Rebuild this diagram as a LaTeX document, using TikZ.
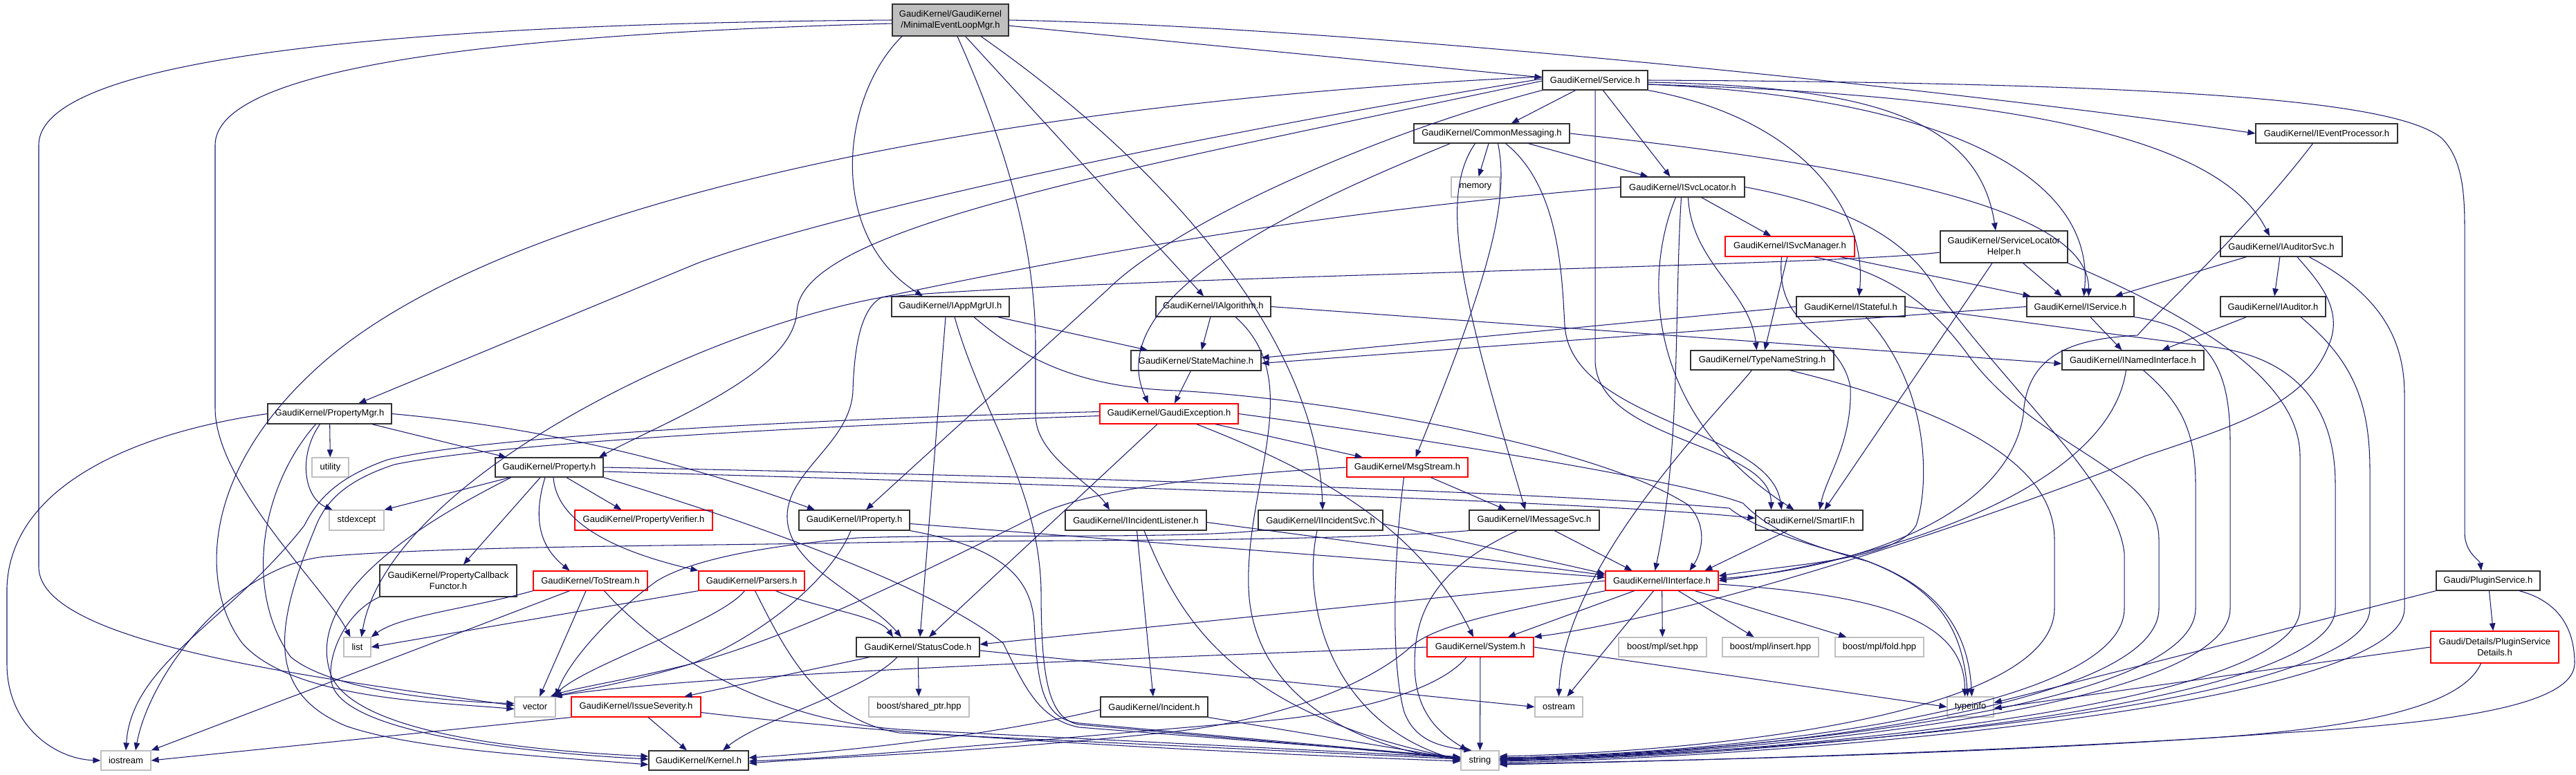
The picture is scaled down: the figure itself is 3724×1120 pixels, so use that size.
\documentclass[tikz,border=0pt]{standalone}
\usepackage{fontspec}
\newfontfamily\gkfam{Liberation Sans}
\usetikzlibrary{arrows.meta}
\definecolor{edgecol}{RGB}{25,25,112}
\definecolor{boxgrey}{RGB}{191,191,191}
\definecolor{melmgrey}{RGB}{191,191,191}
\definecolor{boxline}{RGB}{50,50,50}
\newcommand\gkfont{\gkfam\fontsize{13}{16}\selectfont}
\tikzset{
  box/.style={draw=boxline, line width=1.2pt, fill=white, inner sep=0pt, align=center, font=\gkfont, text=black},
  redbox/.style={box, draw=red},
  greybox/.style={box, draw=boxgrey},
  wh/.style 2 args={minimum width=#1pt, minimum height=#2pt},
  edg/.style={draw=edgecol, line width=1.05pt, -{Triangle[length=11pt,width=8.5pt]}},
}
\begin{document}
\begin{tikzpicture}[x=1pt,y=-1pt]
\fill[white] (0,0) rectangle (3724,1120);
\useasboundingbox (0,0) rectangle (3724,1120);

% ---------- nodes ----------
\node[box, fill=melmgrey, wh={168}{46}] (melm) at (1374,29) {GaudiKernel/GaudiKernel\\/MinimalEventLoopMgr.h};
\node[box, wh={152}{28}] (service) at (2306,116) {GaudiKernel/Service.h};
\node[box, wh={225}{28}] (cm) at (2156.5,193) {GaudiKernel/CommonMessaging.h};
\node[box, wh={205}{28}] (iep) at (3363.5,193) {GaudiKernel/IEventProcessor.h};
\node[greybox, wh={70}{29}] (memory) at (2133,270.5) {memory};
\node[box, wh={179}{29}] (isvcloc) at (2432.5,270.5) {GaudiKernel/ISvcLocator.h};
\node[redbox, wh={187}{29}] (isvcmgr) at (2587.5,356.5) {GaudiKernel/ISvcManager.h};
\node[box, wh={184}{46}] (slh) at (2897,357) {GaudiKernel/ServiceLocator\\Helper.h};
\node[box, wh={176}{29}] (iaudsvc) at (3298,356.5) {GaudiKernel/IAuditorSvc.h};
\node[box, wh={170}{29}] (iappmgrui) at (1374,443.5) {GaudiKernel/IAppMgrUI.h};
\node[box, wh={166}{29}] (ialg) at (1754,443.5) {GaudiKernel/IAlgorithm.h};
\node[box, wh={157}{29}] (istateful) at (2675.5,443.5) {GaudiKernel/IStateful.h};
\node[box, wh={155}{29}] (iservice) at (3007.5,443.5) {GaudiKernel/IService.h};
\node[box, wh={152}{29}] (iauditor) at (3286,443.5) {GaudiKernel/IAuditor.h};
\node[box, wh={188}{29}] (statemachine) at (1729,521.5) {GaudiKernel/StateMachine.h};
\node[box, wh={207}{28}] (tns) at (2547.5,521) {GaudiKernel/TypeNameString.h};
\node[box, wh={205}{28}] (inamed) at (3083.5,521) {GaudiKernel/INamedInterface.h};
\node[box, wh={179}{29}] (propmgr) at (476.5,598.5) {GaudiKernel/PropertyMgr.h};
\node[redbox, wh={200}{29}] (gexc) at (1690,598.5) {GaudiKernel/GaudiException.h};
\node[greybox, wh={53}{28}] (utility) at (477.5,676) {utility};
\node[box, wh={156}{28}] (property) at (794,676) {GaudiKernel/Property.h};
\node[redbox, wh={175}{28}] (msgstream) at (2034.5,676) {GaudiKernel/MsgStream.h};
\node[greybox, wh={79}{29}] (stdexcept) at (515.5,752.5) {stdexcept};
\node[redbox, wh={199}{29}] (propver) at (930.5,752.5) {GaudiKernel/PropertyVerifier.h};
\node[box, wh={160}{29}] (iproperty) at (1235,752.5) {GaudiKernel/IProperty.h};
\node[box, wh={204}{29}] (ilistener) at (1642,752.5) {GaudiKernel/IIncidentListener.h};
\node[box, wh={180}{29}] (iincsvc) at (1909,752.5) {GaudiKernel/IIncidentSvc.h};
\node[box, wh={188}{29}] (imsgsvc) at (2218,752.5) {GaudiKernel/IMessageSvc.h};
\node[box, wh={155}{29}] (smartif) at (2615.5,752.5) {GaudiKernel/SmartIF.h};
\node[box, wh={198}{46}] (pcbf) at (648,840) {GaudiKernel/PropertyCallback\\Functor.h};
\node[redbox, wh={165}{28}] (tostream) at (853.5,840) {GaudiKernel/ToStream.h};
\node[redbox, wh={153}{28}] (parsers) at (1086.5,840) {GaudiKernel/Parsers.h};
\node[redbox, wh={163}{28}] (interface) at (2402.5,840) {GaudiKernel/IInterface.h};
\node[box, wh={150}{28}] (pluginsvc) at (3597,840) {Gaudi/PluginService.h};
\node[greybox, wh={39}{28}] (list) at (516.5,936) {list};
\node[box, wh={178}{28}] (statuscode) at (1327,936) {GaudiKernel/StatusCode.h};
\node[redbox, wh={154}{28}] (system) at (2140,936) {GaudiKernel/System.h};
\node[greybox, wh={127}{28}] (mplset) at (2403.5,936) {boost/mpl/set.hpp};
\node[greybox, wh={139}{28}] (mplinsert) at (2559.5,936) {boost/mpl/insert.hpp};
\node[greybox, wh={128}{28}] (mplfold) at (2717,936) {boost/mpl/fold.hpp};
\node[redbox, wh={185}{46}] (psdetails) at (3606.5,936) {Gaudi/Details/PluginService\\Details.h};
\node[greybox, wh={59}{29}] (vector) at (773.5,1022.5) {vector};
\node[redbox, wh={187}{29}] (issue) at (919.5,1022.5) {GaudiKernel/IssueSeverity.h};
\node[greybox, wh={145}{29}] (sharedptr) at (1328.5,1022.5) {boost/shared\_ptr.hpp};
\node[box, wh={155}{29}] (incident) at (1668.5,1022.5) {GaudiKernel/Incident.h};
\node[greybox, wh={69}{29}] (ostream) at (2253.5,1022.5) {ostream};
\node[greybox, wh={67}{29}] (typeinfo) at (2848.5,1022.5) {typeinfo};
\node[greybox, wh={72}{28}] (iostream) at (182,1100) {iostream};
\node[box, wh={144}{28}] (kernel) at (1010,1100) {GaudiKernel/Kernel.h};
\node[greybox, wh={55}{28}] (string) at (2139.5,1100) {string};

% ---------- MinimalEventLoopMgr ----------
\draw[edg] (melm) -- ([yshift=4pt]service.west);
\draw[edg] (melm.east) .. controls (2000,40) and (2900,140) .. (iep.west);
\draw[edg] ([xshift=-70pt]melm.south) .. controls (1215,140) and (1195,340) .. ([xshift=-40pt]iappmgrui.north);
\draw[edg] (melm) -- (ialg);
\draw[edg] ([xshift=10pt]melm.south) .. controls (1450,200) and (1497,350) .. (1497,500) -- (1497,600) .. controls (1497,660) and (1580,700) .. ([xshift=-38pt]ilistener.north);
\draw[edg] ([xshift=44pt]melm.south) .. controls (1700,250) and (1905,500) .. ([xshift=3pt]iincsvc.north);
\draw[edg] (melm.west) .. controls (600,34) and (56,80) .. (56,210) -- (56,820) .. controls (56,930) and (450,980) .. ([yshift=2pt]vector.west);
\draw[edg] ([yshift=-5pt]melm.west) .. controls (700,50) and (311,100) .. (311,210) -- (311,590) .. controls (311,700) and (470,850) .. ([xshift=-10pt]list.north);

% ---------- Service ----------
\draw[edg] (service) -- (cm);
\draw[edg] (service) -- ([xshift=-18pt]isvcloc.north);
\draw[edg] ([yshift=-3pt]service.east) .. controls (2700,125) and (2860,170) .. ([xshift=-12pt]slh.north);
\draw[edg] ([yshift=-6pt]service.east) .. controls (3000,140) and (3220,220) .. ([xshift=-17pt]iaudsvc.north);
\draw[edg] ([yshift=-6pt]service.east) .. controls (2800,140) and (3030,250) .. ([xshift=5pt]iservice.north);
\draw[edg] (service.south east) .. controls (2600,170) and (2700,300) .. ([xshift=12pt]istateful.north);
\draw[edg] (service.east) .. controls (3200,120) and (3470,150) .. (3530,200) .. controls (3560,230) and (3563,280) .. (3563,330) -- (3563,770) .. controls (3563,800) and (3585,810) .. ([xshift=-10pt]pluginsvc.north);
\draw[edg] ([yshift=2pt]service.west) .. controls (1700,200) and (1200,310) .. (1010,380) -- ([xshift=42pt]propmgr.north);
\draw[edg] ([yshift=-1pt]service.west) .. controls (1600,250) and (1160,330) .. (1152,450) .. controls (1148,540) and (960,610) .. ([xshift=72pt]property.north);
\draw[edg] ([yshift=5pt]service.west) .. controls (1400,150) and (700,300) .. (450,540) .. controls (290,690) and (290,850) .. (350,930) .. controls (420,1010) and (620,1015) .. ([yshift=-3pt]vector.west);
\draw[edg] (service.south west) .. controls (2000,190) and (1700,320) .. (1600,420) -- ([xshift=17pt]iproperty.north);
\draw[edg] (service.south) -- (2306,520) .. controls (2306,640) and (2560,640) .. ([xshift=-55pt]smartif.north);

% ---------- CommonMessaging ----------
\draw[edg] ([xshift=-60pt]cm.south) .. controls (1870,300) and (1590,430) .. ([xshift=-30pt]gexc.north);
\draw[edg] ([xshift=-24pt]cm.south) .. controls (2075,290) and (2120,450) .. ([xshift=-13pt]imsgsvc.north);
\draw[edg] (cm) -- (memory);
\draw[edg] ([xshift=9pt]cm.south) .. controls (2185,300) and (2140,430) .. ([xshift=12pt]msgstream.north);
\draw[edg] ([xshift=20pt]cm.south) .. controls (2255,270) and (2258,400) .. (2262,470) .. controls (2270,610) and (2560,620) .. ([xshift=-40pt]smartif.north);
\draw[edg] (cm) -- ([xshift=-50pt]isvcloc.north);
\draw[edg] (cm.east) .. controls (2700,240) and (3020,300) .. ([xshift=12pt]iservice.north);

% ---------- IEventProcessor ----------
\draw[edg] ([xshift=-20pt]iep.south) .. controls (3250,330) and (3130,440) .. (3090,485) .. controls (3000,490) and (2930,510) .. (2925,600) .. controls (2900,760) and (2650,825) .. ([yshift=3pt]interface.east);

% ---------- ISvcLocator ----------
\draw[edg] (isvcloc) -- (isvcmgr);
\draw[edg] ([xshift=8pt]isvcloc.south) .. controls (2445,380) and (2530,420) .. ([xshift=-8pt]tns.north);
\draw[edg] ([xshift=-10pt]isvcloc.south) .. controls (2375,400) and (2380,600) .. ([xshift=-22pt]smartif.north);
\draw[edg] ([xshift=-2pt]isvcloc.south) .. controls (2420,450) and (2430,650) .. ([xshift=-10pt]interface.north);
\draw[edg] (isvcloc.east) .. controls (2680,300) and (2760,350) .. (2800,420) .. controls (2900,560) and (3060,700) .. (3071,800) -- (3071,880) .. controls (3071,1030) and (2500,1090) .. ([yshift=4pt]string.east);
\draw[edg] (isvcloc.west) .. controls (2000,300) and (1700,340) .. (1275,430) .. controls (1000,480) and (560,700) .. ([xshift=6pt]list.north);

% ---------- ISvcManager ----------
\draw[edg] (isvcmgr) -- ([xshift=-72pt]iservice.north);
\draw[edg] (isvcmgr) -- (tns);
\draw[edg] ([xshift=-12pt]isvcmgr.south) .. controls (2565,480) and (2660,480) .. (2675,560) .. controls (2678,640) and (2640,690) .. ([xshift=15pt]smartif.north);
\draw[edg] ([xshift=35pt]isvcmgr.south) .. controls (2740,395) and (2800,450) .. (2850,520) .. controls (2950,650) and (3121,680) .. (3121,780) -- (3121,880) .. controls (3121,1030) and (2500,1092) .. ([yshift=2pt]string.east);

% ---------- ServiceLocatorHelper ----------
\draw[edg] (slh) -- ([xshift=-27pt]iservice.north);
\draw[edg] ([xshift=-17pt]slh.south) -- ([xshift=22pt]smartif.north);
\draw[edg] ([yshift=-8pt]slh.west) .. controls (2650,385) and (1600,400) .. (1275,430) .. controls (1245,445) and (1235,500) .. (1233,565) .. controls (1230,640) and (1140,680) .. (1138,745) .. controls (1136,820) and (1250,860) .. ([xshift=-24pt]statuscode.north);
\draw[edg] (slh.south east) .. controls (3200,470) and (3325,560) .. (3325,660) -- (3325,880) .. controls (3325,1030) and (2500,1094) .. ([yshift=0pt]string.east);

% ---------- IAuditorSvc ----------
\draw[edg] (iaudsvc) -- ([xshift=50pt]iservice.north);
\draw[edg] (iaudsvc) -- (iauditor);
\draw[edg] ([xshift=23pt]iaudsvc.south) .. controls (3345,400) and (3385,440) .. (3370,490) .. controls (3340,580) and (3250,610) .. (3100,660) .. controls (2850,760) and (2450,890) .. (system.north east);
\draw[edg] ([xshift=40pt]iaudsvc.south) .. controls (3430,420) and (3476,480) .. (3476,570) -- (3476,880) .. controls (3476,1030) and (2500,1098) .. ([yshift=-3pt]string.east);

% ---------- IAppMgrUI ----------
\draw[edg] (iappmgrui) -- ([xshift=-70pt]statemachine.north);
\draw[edg] ([xshift=-7pt]iappmgrui.south) -- ([xshift=3pt]statuscode.north);
\draw[edg] ([xshift=6pt]iappmgrui.south) .. controls (1420,600) and (1500,700) .. (1505,850) .. controls (1505,980) and (1515,1040) .. (1560,1048) -- ([yshift=3pt]string.west);
\draw[edg] ([xshift=34pt]iappmgrui.south) .. controls (1480,520) and (1560,560) .. (1700,565) .. controls (1900,575) and (2300,640) .. (2440,730) .. controls (2470,760) and (2460,800) .. ([xshift=40pt]interface.north);

% ---------- IAlgorithm ----------
\draw[edg] (ialg) -- ([xshift=8pt]statemachine.north);
\draw[edg] (ialg.east) -- ([yshift=-5pt]inamed.west);
\draw[edg] ([xshift=32pt]ialg.south) .. controls (1890,550) and (1800,700) .. (1805,850) .. controls (1810,1000) and (1950,1080) .. ([yshift=1pt]string.west);

% ---------- IStateful ----------
\draw[edg] (istateful.west) -- ([yshift=4pt]statemachine.east);
\draw[edg] ([xshift=22pt]istateful.south) .. controls (2790,560) and (2790,700) .. (2770,760) .. controls (2740,810) and (2600,815) .. ([yshift=7pt]interface.east);
\draw[edg] (istateful.east) .. controls (2900,462) and (3100,490) .. (3200,502) .. controls (3330,520) and (3376,600) .. (3376,700) -- (3376,880) .. controls (3376,1030) and (2500,1096) .. ([yshift=-1pt]string.east);

% ---------- IService ----------
\draw[edg] (iservice.west) -- ([yshift=-4pt]statemachine.east);
\draw[edg] (iservice) -- ([xshift=-16pt]inamed.north);
\draw[edg] (iservice.south east) .. controls (3200,475) and (3224,540) .. (3224,640) -- (3224,880) .. controls (3224,1030) and (2500,1092) .. ([yshift=1pt]string.east);

% ---------- IAuditor ----------
\draw[edg] (iauditor) -- ([xshift=42pt]inamed.north);
\draw[edg] ([xshift=40pt]iauditor.south) .. controls (3400,520) and (3426,580) .. (3426,680) -- (3426,880) .. controls (3426,1030) and (2500,1094) .. ([yshift=2pt]string.east);

% ---------- StateMachine ----------
\draw[edg] (statemachine) -- ([xshift=8pt]gexc.north);

% ---------- TypeNameString ----------
\draw[edg] ([xshift=-15pt]tns.south) .. controls (2480,600) and (2260,820) .. ([xshift=0pt]ostream.north);
\draw[edg] ([xshift=40pt]tns.south) .. controls (2850,600) and (2970,680) .. (2970,780) -- (2970,880) .. controls (2970,1030) and (2500,1086) .. ([yshift=6pt]string.east);

% ---------- INamedInterface ----------
\draw[edg] ([xshift=-10pt]inamed.south) .. controls (3050,700) and (2750,805) .. (interface.east);
\draw[edg] ([xshift=15pt]inamed.south) .. controls (3150,580) and (3174,620) .. (3174,700) -- (3174,880) .. controls (3174,1030) and (2500,1090) .. ([yshift=3pt]string.east);

% ---------- PropertyMgr ----------
\draw[edg] (propmgr) -- ([xshift=-62pt]property.north);
\draw[edg] (propmgr) -- (utility);
\draw[edg] ([xshift=-14pt]propmgr.south) .. controls (430,660) and (440,720) .. ([xshift=-35pt]stdexcept.north);
\draw[edg] ([xshift=-20pt]propmgr.south) .. controls (380,700) and (350,850) .. (420,950) .. controls (480,1000) and (650,1015) .. ([yshift=5pt]vector.west);
\draw[edg] (propmgr.east) .. controls (750,615) and (950,655) .. ([xshift=-57pt]iproperty.north);
\draw[edg] (propmgr.west) .. controls (200,625) and (15,700) .. (10,850) -- (10,960) .. controls (10,1050) and (80,1098) .. (iostream.west);

% ---------- Property ----------
\draw[edg] (property) -- (stdexcept.north east);
\draw[edg] (property) -- ([xshift=22pt]pcbf.north);
\draw[edg] ([xshift=-6pt]property.south) .. controls (770,750) and (780,790) .. ([xshift=-30pt]tostream.north);
\draw[edg] ([xshift=6pt]property.south) .. controls (805,760) and (900,800) .. (parsers.north west);
\draw[edg] (property) -- ([xshift=-32pt]propver.north);
\draw[edg] (property.south east) .. controls (1100,760) and (1350,850) .. (1450,930) .. controls (1480,990) and (1500,1040) .. (1560,1052) -- ([yshift=5pt]string.west);
\draw[edg] (property.east) .. controls (1500,688) and (2200,710) .. (2500,735) .. controls (2530,760) and (2600,785) .. (2680,805) .. controls (2790,840) and (2845,900) .. ([xshift=2pt]typeinfo.north);
\draw[edg] ([yshift=-6pt]property.east) .. controls (1500,700) and (2300,725) .. ([yshift=3pt]smartif.west);
\draw[edg] ([xshift=-55pt]property.south) .. controls (560,780) and (440,880) .. (480,980) .. controls (520,1060) and (750,1085) .. ([yshift=6pt]kernel.west);

% ---------- PropertyCallbackFunctor ----------
\draw[edg] (pcbf.south west) .. controls (500,885) and (470,950) .. (480,990) .. controls (500,1060) and (750,1088) .. ([yshift=2pt]kernel.west);

% ---------- GaudiException ----------
\draw[edg] (gexc) -- (msgstream);
\draw[edg] ([xshift=-17pt]gexc.south) -- ([xshift=16pt]statuscode.north);
\draw[edg] ([xshift=40pt]gexc.south) .. controls (1900,680) and (2050,760) .. ([xshift=-10pt]system.north);
\draw[edg] ([yshift=3pt]gexc.west) .. controls (1200,605) and (700,630) .. (560,665) .. controls (490,690) and (460,720) .. (440,760) .. controls (330,900) and (190,960) .. (iostream.north);
\draw[edg] ([yshift=-3pt]gexc.west) .. controls (1200,615) and (720,640) .. (570,672) .. controls (500,695) and (470,725) .. (455,765) .. controls (400,900) and (380,1000) .. (500,1050) .. controls (600,1085) and (800,1095) .. ([yshift=-6pt]kernel.west);
\draw[edg] (gexc.east) .. controls (2100,640) and (2450,700) .. (2520,728) .. controls (2560,770) and (2620,790) .. (2700,812) .. controls (2800,850) and (2838,910) .. ([xshift=-4pt]typeinfo.north);

% ---------- MsgStream ----------
\draw[edg] (msgstream) -- ([xshift=-41pt]imsgsvc.north);
\draw[edg] (msgstream.west) .. controls (1700,690) and (1560,715) .. (1500,745) .. controls (1350,820) and (1150,920) .. (1000,960) .. controls (900,985) and (830,995) .. ([xshift=-8pt]vector.north east);
\draw[edg] ([xshift=-5pt]msgstream.south) .. controls (2015,800) and (2010,960) .. (2030,1030) .. controls (2045,1070) and (2080,1080) .. ([xshift=-12pt]string.north);

% ---------- IProperty ----------
\draw[edg] ([yshift=-5pt]iproperty.east) -- ([yshift=5pt]interface.west);
\draw[edg] (iproperty.south east) .. controls (1440,790) and (1490,830) .. (1495,900) .. controls (1500,1000) and (1510,1040) .. (1560,1046) -- ([yshift=4pt]string.west);
\draw[edg] ([xshift=-5pt]iproperty.south) .. controls (1200,840) and (1100,920) .. (1000,960) .. controls (900,990) and (830,1000) .. ([xshift=-2pt]vector.north east);

% ---------- IIncidentListener ----------
\draw[edg] ([yshift=-3pt]ilistener.east) -- ([yshift=8pt]interface.west);
\draw[edg] (ilistener) -- (incident);
\draw[edg] ([xshift=12pt]ilistener.south) .. controls (1700,880) and (1770,1030) .. ([yshift=2pt]string.west);

% ---------- IIncidentSvc ----------
\draw[edg] ([yshift=-5pt]iincsvc.east) -- ([yshift=10pt]interface.west);
\draw[edg] ([xshift=-5pt]iincsvc.south) .. controls (1880,880) and (1930,1050) .. ([yshift=0pt]string.west);
\draw[edg] (iincsvc.south west) .. controls (1700,780) and (1400,772) .. (1240,778) .. controls (1100,790) and (1000,810) .. (950,840) .. controls (880,890) and (820,960) .. (vector.north east);

% ---------- IMessageSvc ----------
\draw[edg] (imsgsvc) -- ([xshift=-43pt]interface.north);
\draw[edg] ([xshift=-25pt]imsgsvc.south) .. controls (2080,820) and (2045,880) .. (2045,960) .. controls (2045,1030) and (2080,1060) .. ([xshift=-18pt]string.north);
\draw[edg] (imsgsvc.south west) .. controls (1900,785) and (1500,780) .. (1240,785) .. controls (950,790) and (650,790) .. (470,805) .. controls (330,820) and (215,980) .. ([xshift=14pt]iostream.north);

% ---------- SmartIF ----------
\draw[edg] (smartif) -- ([xshift=62pt]interface.north);

% ---------- ToStream ----------
\draw[edg] (tostream.south west) .. controls (680,880) and (580,890) .. (list.north east);
\draw[edg] ([xshift=-30pt]tostream.south) -- (iostream.north east);
\draw[edg] (tostream) -- (vector);
\draw[edg] ([xshift=20pt]tostream.south) .. controls (950,940) and (1100,1040) .. (1300,1055) -- ([yshift=4pt]string.west);

% ---------- Parsers ----------
\draw[edg] (parsers.south west) -- (list.east);
\draw[edg] ([xshift=35pt]parsers.south) .. controls (1180,880) and (1270,890) .. ([xshift=-36pt]statuscode.north);
\draw[edg] ([xshift=-10pt]parsers.south) .. controls (1040,900) and (850,960) .. ([xshift=-4pt]vector.north east);
\draw[edg] ([xshift=5pt]parsers.south) .. controls (1130,930) and (1180,1040) .. (1300,1060) -- ([yshift=2pt]string.west);

% ---------- IInterface ----------
\draw[edg] (interface) -- (system);
\draw[edg] (interface.west) -- ([yshift=4pt]statuscode.east);
\draw[edg] (interface) -- (mplset);
\draw[edg] (interface) -- (mplinsert);
\draw[edg] (interface) -- (mplfold);
\draw[edg] (interface) -- ([xshift=12pt]ostream.north);
\draw[edg] ([yshift=-5pt]interface.east) .. controls (2700,860) and (2840,890) .. ([xshift=-8pt]typeinfo.north);
\draw[edg] (interface.south west) .. controls (2200,880) and (2080,900) .. (2040,935) .. controls (1980,990) and (1850,1040) .. (1700,1058) .. controls (1400,1090) and (1200,1095) .. ([yshift=-4pt]kernel.east);

% ---------- PluginService ----------
\draw[edg] (pluginsvc) -- (psdetails);
\draw[edg] (pluginsvc.south west) -- ([yshift=6pt]typeinfo.east);
\draw[edg] ([xshift=45pt]pluginsvc.south) .. controls (3700,870) and (3722,910) .. (3722,960) .. controls (3720,1020) and (3550,1045) .. (3300,1060) .. controls (2900,1090) and (2450,1100) .. ([yshift=-5pt]string.east);
\draw[edg] (psdetails.west) -- ([yshift=-2pt]typeinfo.east);
\draw[edg] ([xshift=-20pt]psdetails.south) .. controls (3560,1020) and (3420,1055) .. (3150,1070) .. controls (2800,1090) and (2450,1100) .. ([yshift=-6pt]string.east);

% ---------- StatusCode ----------
\draw[edg] ([yshift=-5pt]statuscode.east) -- (ostream.west);
\draw[edg] (statuscode) -- (sharedptr);
\draw[edg] ([xshift=-70pt]statuscode.south) -- ([xshift=70pt]issue.north);
\draw[edg] ([xshift=-30pt]statuscode.south) .. controls (1250,1000) and (1100,1040) .. ([xshift=35pt]kernel.north);

% ---------- System ----------
\draw[edg] (system) -- (string);
\draw[edg] (system.west) .. controls (1700,950) and (1000,975) .. ([xshift=-3pt]vector.north east);
\draw[edg] (system.east) -- (typeinfo.west);
\draw[edg] ([xshift=-20pt]system.south) .. controls (2080,1000) and (1950,1035) .. (1800,1045) .. controls (1500,1070) and (1250,1095) .. ([yshift=-1pt]kernel.east);

% ---------- IssueSeverity ----------
\draw[edg] (issue) -- (kernel);
\draw[edg] (issue.south west) -- (iostream.east);
\draw[edg] ([yshift=-8pt]issue.east) .. controls (1300,1065) and (1800,1090) .. ([yshift=-1pt]string.west);

% ---------- Incident ----------
\draw[edg] ([yshift=-4pt]incident.west) .. controls (1450,1060) and (1250,1085) .. ([yshift=4pt]kernel.east);
\draw[edg] (incident.south east) -- ([yshift=2pt]string.west);

\end{tikzpicture}
\end{document}
